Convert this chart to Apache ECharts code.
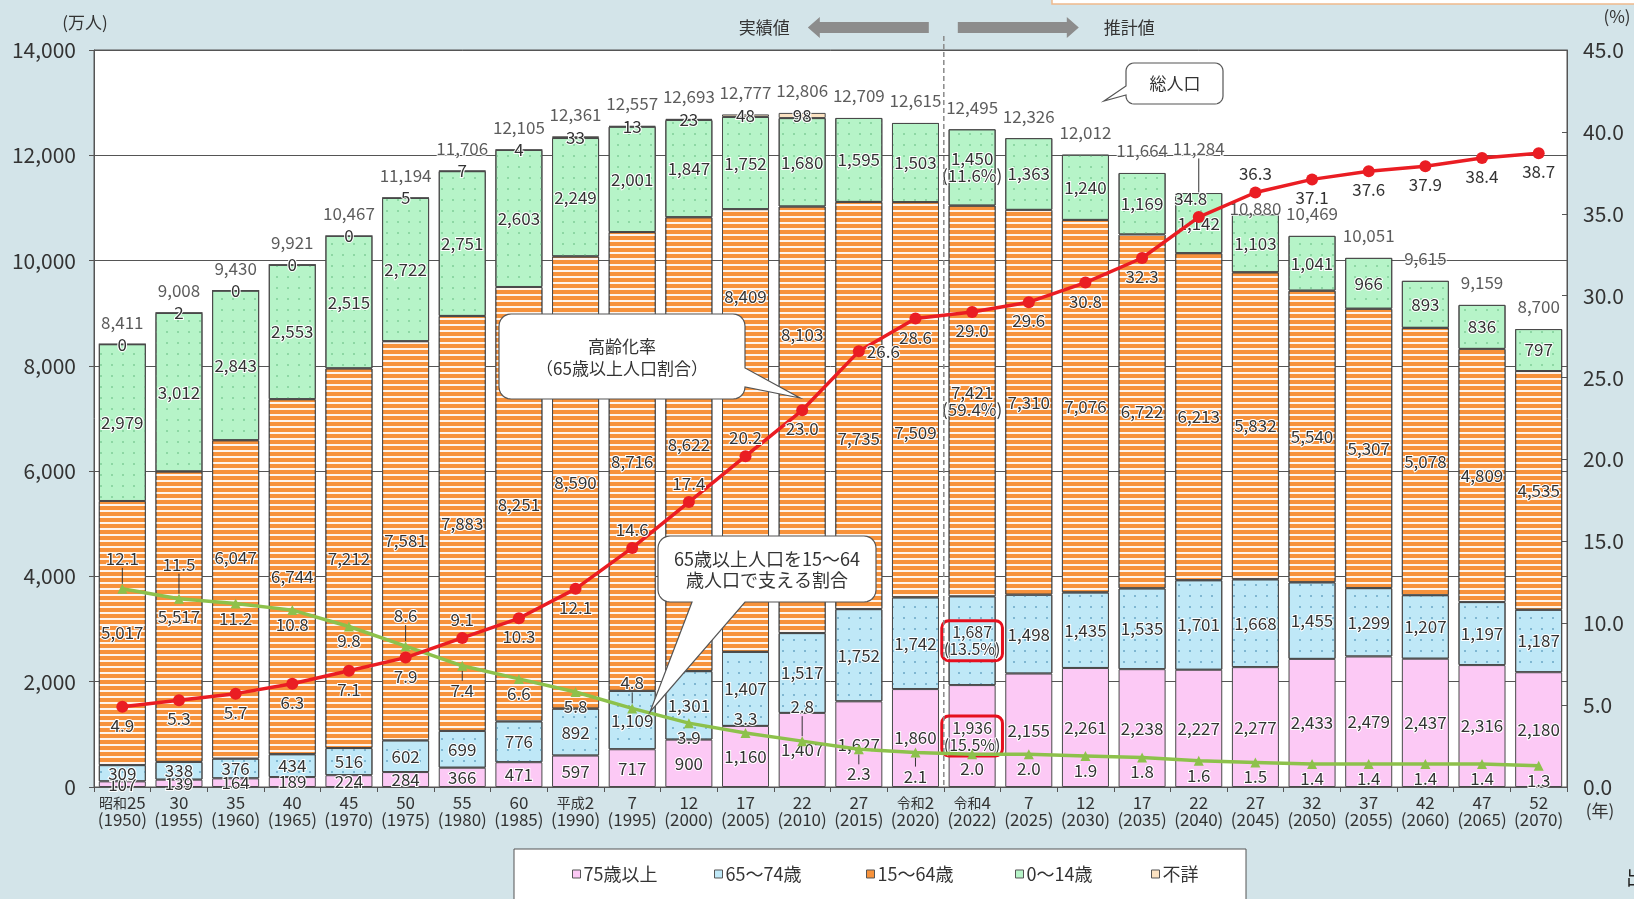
<!DOCTYPE html>
<html><head><meta charset="utf-8">
<script src="https://cdn.jsdelivr.net/npm/echarts@6/dist/echarts.min.js"></script>
<style>html,body{margin:0;padding:0;background:#d3e4e9}#c{width:1634px;height:899px}</style>
</head><body><div id="c"></div>
<script>
// ---------- data ----------
const categories = ['昭和25\n(1950)','30\n(1955)','35\n(1960)','40\n(1965)','45\n(1970)','50\n(1975)','55\n(1980)','60\n(1985)','平成2\n(1990)','7\n(1995)','12\n(2000)','17\n(2005)','22\n(2010)','27\n(2015)','令和2\n(2020)','令和4\n(2022)','7\n(2025)','12\n(2030)','17\n(2035)','22\n(2040)','27\n(2045)','32\n(2050)','37\n(2055)','42\n(2060)','47\n(2065)','52\n(2070)'];
const age75plus = [107,139,164,189,224,284,366,471,597,717,900,1160,1407,1627,1860,1936,2155,2261,2238,2227,2277,2433,2479,2437,2316,2180];
const age65to74 = [309,338,376,434,516,602,699,776,892,1109,1301,1407,1517,1752,1742,1687,1498,1435,1535,1701,1668,1455,1299,1207,1197,1187];
const age15to64 = [5017,5517,6047,6744,7212,7581,7883,8251,8590,8716,8622,8409,8103,7735,7509,7421,7310,7076,6722,6213,5832,5540,5307,5078,4809,4535];
const age0to14 = [2979,3012,2843,2553,2515,2722,2751,2603,2249,2001,1847,1752,1680,1595,1503,1450,1363,1240,1169,1142,1103,1041,966,893,836,797];
const unknownAge = [0,2,0,0,0,5,7,4,33,13,23,48,98,null,null,null,null,null,null,null,null,null,null,null,null,null];
const totalPop = [8411,9008,9430,9921,10467,11194,11706,12105,12361,12557,12693,12777,12806,12709,12615,12495,12326,12012,11664,11284,10880,10469,10051,9615,9159,8700];
const agingRate = [4.9,5.3,5.7,6.3,7.1,7.9,9.1,10.3,12.1,14.6,17.4,20.2,23.0,26.6,28.6,29.0,29.6,30.8,32.3,34.8,36.3,37.1,37.6,37.9,38.4,38.7];
const supportRatio = [12.1,11.5,11.2,10.8,9.8,8.6,7.4,6.6,5.8,4.8,3.9,3.3,2.8,2.3,2.1,2.0,2.0,1.9,1.8,1.6,1.5,1.4,1.4,1.4,1.4,1.3];
// shares (%) in 令和4(2022): 75+, 65-74, 15-64, 0-14
const shares2022 = [15.5, 13.5, 59.4, 11.6];
const idx2022 = 15;
const legendNames = ['75歳以上','65～74歳','15～64歳','0～14歳','不詳'];

// ---------- label placement (styles) ----------
const redPos = ['bottom','bottom','bottom','bottom','bottom','bottom','top','bottom','bottom','top','top','top','bottom','right','bottom','bottom','bottom','bottom','bottom','top','top','bottom','bottom','bottom','bottom','bottom'];
const redDx = {19:-8};
const greenPos = ['top','top','bottom','bottom','bottom','top','bottom','bottom','bottom','top','bottom','top','top','bottom','bottom','bottom','bottom','bottom','bottom','bottom','bottom','bottom','bottom','bottom','bottom','bottom'];
const greenDy = {0:-12,1:-16,5:-12,6:6,9:-7,12:-16,13:6,14:5};
const orangeDy = {2:-42,11:-134,12:-85,13:33,14:33};
const totalDy = {19:-22,20:16};
const legendLeft = [572, 714, 866, 1015, 1151];

const FF = '"Noto Sans CJK JP","Noto Sans",sans-serif';
const fmt = v => v.toLocaleString('en-US');
const TXT = '#333';
const LFS = 17;

const dots = c => ({symbol:'circle', symbolSize:0.5, dashArrayX:[4,7], dashArrayY:[4,7], color:c});
const stripes = {symbol:'rect', symbolSize:1, dashArrayX:[1,0], dashArrayY:[1.6,3.9], rotation:0, color:'rgba(255,255,255,0.9)'};

function barLabel(extra){
  return Object.assign({show:true, position:'inside', fontSize:LFS, color:TXT, fontFamily:FF,
    textBorderColor:'#fff', textBorderWidth:2, lineHeight:17}, extra||{});
}
const redBox = {borderColor:'#e60f1e', borderWidth:3, borderRadius:7, padding:[3,2], fontSize:16, lineHeight:17};
function withShare(arr, k, boxed){
  return arr.map((v,i)=> i===idx2022 ? {value:v, label:Object.assign({formatter: fmt(v)+'\n('+shares2022[k].toFixed(1)+'%)'}, boxed?redBox:{})} : v);
}
function bar(name, data, color, decal, extra){
  return Object.assign({name, type:'bar', stack:'pop', data, barWidth:'83%', yAxisIndex:0,
    itemStyle:{color, borderColor:'#4a4a4a', borderWidth:1, decal},
    label: barLabel({formatter: p => p.value==null ? '' : fmt(p.value)}),
    emphasis:{disabled:true}}, extra||{});
}

const chart = echarts.init(document.getElementById('c'), null, {renderer:'canvas'});
chart.setOption({
  animation:false,
  backgroundColor:'#d3e4e9',
  textStyle:{fontFamily:FF},
  grid:{left:94, right:67, top:50, bottom:112, show:true, backgroundColor:'#fff', borderColor:'#555', borderWidth:1},
  legend: legendNames.map((n,i)=>({
    data:[n], left:legendLeft[i], top:865, itemWidth:8, itemHeight:8, icon:'rect', z:10, padding:0,
    itemStyle:{borderColor:'#555', borderWidth:1, decal:'none'},
    textStyle:{fontSize:18, color:TXT, fontFamily:FF, padding:[0,0,0,-2]}
  })),
  xAxis:{type:'category', data:categories,
    axisLine:{lineStyle:{color:'#555'}},
    axisTick:{show:true, length:5, lineStyle:{color:'#555'}},
    axisLabel:{interval:0, color:TXT, fontSize:17, lineHeight:17, margin:7, fontFamily:FF,
      formatter: v => v.replace(/(昭和|平成|令和)/, '{era|$1}'),
      rich:{era:{fontSize:14, color:TXT, fontFamily:FF}}}
  },
  yAxis:[
    {type:'value', min:0, max:14000, interval:2000,
      axisLine:{show:true, lineStyle:{color:'#555'}},
      axisTick:{show:true, length:5, lineStyle:{color:'#555'}},
      axisLabel:{color:TXT, fontSize:21, margin:18, formatter: v => fmt(v)},
      splitLine:{show:true, lineStyle:{color:'#555', width:1}}},
    {type:'value', min:0, max:45, interval:5, position:'right',
      axisLine:{show:true, lineStyle:{color:'#555'}},
      axisTick:{show:true, inside:true, length:5, lineStyle:{color:'#555'}},
      axisLabel:{color:TXT, fontSize:21, margin:16, formatter: v => v.toFixed(1)},
      splitLine:{show:false}}
  ],
  series:[
    bar('75歳以上', withShare(age75plus,0,true), '#fcc9f5', undefined),
    bar('65～74歳', withShare(age65to74,1,true), '#bfe8f7', dots('#6aa7c6')),
    bar('15～64歳', withShare(age15to64,2,false), '#f7923b', stripes,
        {labelLayout: p => orangeDy[p.dataIndex]!=null ? {dy:orangeDy[p.dataIndex]} : {}}),
    bar('0～14歳', withShare(age0to14,3,false), '#b6f4c8', dots('#7fcf98')),
    bar('不詳', unknownAge, '#fbe2c2', undefined),
    {name:'総人口', type:'scatter', data: totalPop.map((v,i)=> i===19 ? {value:v, labelLine:{show:true}} : v),
      yAxisIndex:0, symbolSize:1, itemStyle:{color:'rgba(0,0,0,0)'}, z:4,
      label:{show:true, position:'top', distance:13, fontSize:LFS, color:TXT, fontFamily:FF,
        textBorderColor:'#fff', textBorderWidth:2, formatter: p => fmt(p.value)},
      labelLine:{show:false, lineStyle:{color:'#333', width:1}},
      labelLayout: p => totalDy[p.dataIndex]!=null ? {dy:totalDy[p.dataIndex]} : {},
      emphasis:{disabled:true}},
    {name:'高齢化率', type:'line', yAxisIndex:1, z:6,
      data: agingRate.map((v,i)=>({value:v, label:{position:redPos[i], distance: redPos[i]==='right'?2:4}})),
      symbol:'circle', symbolSize:12, lineStyle:{color:'#ea1d23', width:3.5}, itemStyle:{color:'#ea1d23'},
      label:{show:true, fontSize:LFS, color:TXT, fontFamily:FF, textBorderColor:'#fff', textBorderWidth:2,
        formatter: p => p.value.toFixed(1)},
      labelLayout: p => redDx[p.dataIndex]!=null ? {dx:redDx[p.dataIndex]} : {},
      emphasis:{disabled:true}},
    {name:'支える割合', type:'line', yAxisIndex:1, z:5,
      data: supportRatio.map((v,i)=>({value:v, label:{position:greenPos[i], distance: greenDy[i]!=null?5:1},
        labelLine:{show: greenDy[i]!=null}})),
      symbol:'triangle', symbolSize:10, lineStyle:{color:'#8dc14b', width:3.5}, itemStyle:{color:'#8dc14b'},
      label:{show:true, fontSize:LFS, color:TXT, fontFamily:FF, textBorderColor:'#fff', textBorderWidth:2,
        formatter: p => p.value.toFixed(1)},
      labelLine:{show:false, lineStyle:{color:'#333', width:1}},
      labelLayout: p => greenDy[p.dataIndex]!=null ? {dy:greenDy[p.dataIndex]} : {},
      emphasis:{disabled:true}}
  ]
});

// ---------- annotations ----------
function bubblePts(x,y,w,h,r,side,a,b,tx,ty){
  const pts=[]; const N=6;
  const arc=(cx,cy,a0)=>{for(let k=0;k<=N;k++){const t=(a0+90*k/N)*Math.PI/180; pts.push([cx+r*Math.cos(t), cy+r*Math.sin(t)]);}};
  arc(x+r,y+r,180);
  if(side==='top') pts.push([a,y],[tx,ty],[b,y]);
  arc(x+w-r,y+r,270);
  if(side==='right') pts.push([x+w,a],[tx,ty],[x+w,b]);
  arc(x+w-r,y+h-r,0);
  if(side==='bottom') pts.push([b,y+h],[tx,ty],[a,y+h]);
  arc(x+r,y+h-r,90);
  if(side==='left') pts.push([x,b],[tx,ty],[x,a]);
  return pts;
}
const bubbleStyle = {fill:'#fff', stroke:'#555', lineWidth:1.2};
const x14 = chart.convertToPixel({xAxisIndex:0}, categories[14]);
const x15 = chart.convertToPixel({xAxisIndex:0}, categories[15]);
const xd = (x14 + x15) / 2;
const yBot = chart.convertToPixel({yAxisIndex:0}, 0);
const ay = 27.5;
const arrowL = [[xd-136,ay],[xd-124,ay-10.5],[xd-124,ay-5.5],[xd-15,ay-5.5],[xd-15,ay+5.5],[xd-124,ay+5.5],[xd-124,ay+10.5]];
const arrowR = [[xd+135,ay],[xd+123,ay-10.5],[xd+123,ay-5.5],[xd+14,ay-5.5],[xd+14,ay+5.5],[xd+123,ay+5.5],[xd+123,ay+10.5]];
const txt = (x,y,text,size,align,extra) => ({type:'text', x, y, z:20, style:Object.assign({text, fontSize:size, fontFamily:FF, fill:TXT, align:align||'center', verticalAlign:'middle'}, extra||{})});

chart.setOption({graphic:[
  {type:'rect', shape:{x:1052,y:-3,width:600,height:7}, style:{fill:'#fff', stroke:'#f0b98c', lineWidth:1.5}, z:1},
  {type:'rect', shape:{x:514,y:849,width:732,height:70}, style:{fill:'#fff', stroke:'#555', lineWidth:1}, z:0},
  {type:'line', shape:{x1:xd,y1:36,x2:xd,y2:yBot}, style:{stroke:'#8a8a8a', lineWidth:1.5, lineDash:[5,3]}, z:3},
  {type:'polygon', shape:{points:arrowL}, style:{fill:'#8c8c8c'}, z:3},
  {type:'polygon', shape:{points:arrowR}, style:{fill:'#8c8c8c'}, z:3},
  txt(xd-154, ay, '実績値', 17, 'right'),
  txt(xd+160, ay, '推計値', 17, 'left'),
  txt(85, 23, '(万人)', 17, 'center'),
  txt(1617, 17, '(%)', 17, 'center'),
  txt(1600, 811, '(年)', 17, 'center'),
  txt(1626, 877, '出典', 20, 'left', {fill:'#222'}),
  {type:'polygon', shape:{points:bubblePts(1126,63,97,41,8,'left',86,95,1104,101)}, style:bubbleStyle, z:20},
  txt(1175, 84, '総人口', 17),
  {type:'polygon', shape:{points:bubblePts(499,314,246,85,12,'right',368,387,800,398)}, style:bubbleStyle, z:20},
  txt(622, 358, '高齢化率\n（65歳以上人口割合）', 17, 'center', {lineHeight:22}),
  {type:'polygon', shape:{points:bubblePts(658,536,218,66,12,'bottom',692,745,650,712)}, style:bubbleStyle, z:20},
  txt(767, 569.5, '65歳以上人口を15～64\n歳人口で支える割合', 18, 'center', {lineHeight:21})
]});
</script></body></html>
